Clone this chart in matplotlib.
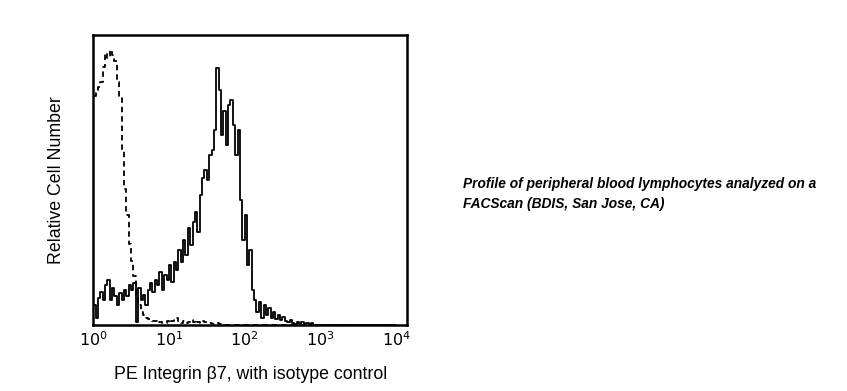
"""Flow cytometry histogram: PE Integrin beta7 vs isotype control."""
import numpy as np
import matplotlib
matplotlib.use("Agg")
import matplotlib.pyplot as plt

plt.rcParams['font.family'] = ['Liberation Sans', 'DejaVu Sans']

# 128 log channels over 4 decades (1/32 decade per channel)
n_channels = 128

# stained sample (solid), counts per channel
stained = [6.9, 2.4, 9.3, 11.4, 8.6, 13.8, 15.5, 8.6, 12.8, 10.0,
           6.9, 11.0, 8.6, 12.0, 10.0, 13.8, 12.0, 14.5, 1.0, 12.8,
           8.6, 10.3, 6.9, 12.0, 14.5, 11.4, 15.5, 13.8, 18.3, 12.0,
           17.2, 15.5, 20.7, 14.8, 21.7, 19.0, 25.9, 21.7, 29.3, 24.1,
           33.4, 27.6, 35.5, 39.0, 32.0, 44.8, 50.7, 53.4, 50.0, 58.6,
           60.3, 67.2, 88.6, 81.0, 65.5, 74.0, 62.0, 75.9, 77.6, 69.0,
           58.6, 67.2, 43.0, 29.3, 38.0, 20.7, 25.9, 12.0, 8.6, 4.5,
           7.9, 2.4, 6.9, 3.4, 5.9, 2.4, 4.5, 2.0, 3.4, 1.7,
           2.8, 1.4, 1.0, 1.7, 0.7, 0.3, 1.0, 0.3, 1.0, 0.3,
           0.8, 0.2, 0.5]

# isotype control (dashed)
isotype = [79, 80, 82, 84, 89, 94, 92, 95, 93, 91,
           84, 79, 60, 47, 38, 28, 22, 17, 10, 7,
           4.5, 3.5, 2.5, 2.0, 1.7, 1.4, 1.2, 0.8, 1.0, 0.5,
           0.8, 1.2, 0.6, 1.5, 2.0, 2.5, 1.2, 0.8, 1.5, 0.7,
           1.0, 1.6, 0.9, 1.8, 1.1, 0.6, 1.3, 0.9, 0.5, 0.8,
           0.4, 0.3, 0.5, 0.2]

tick_vals = [1, 10, 100, 1000, 10000]
tick_labels = [r'$10^{0}$', r'$10^{1}$', r'$10^{2}$', r'$10^{3}$', r'$10^{4}$']

def full(counts):
    arr = np.zeros(n_channels)
    arr[:len(counts)] = counts
    return arr

centers = 10 ** ((np.arange(n_channels) + 0.5) / 32.0)

fig = plt.figure(figsize=(8.47, 3.91), dpi=100)
ax = fig.add_axes([0.110, 0.169, 0.371, 0.741])

ax.plot(centers, full(isotype), color='black', lw=1.3, ls=(0, (3, 2.2)),
        drawstyle='steps-mid')
ax.plot(centers, full(stained), color='black', lw=1.3, drawstyle='steps-mid')

ax.set_xscale('log')
ax.set_xlim(1, 10 ** 4.15)
ax.set_ylim(0, 100)
ax.set_xticks(tick_vals)
ax.set_xticklabels(tick_labels, fontsize=11.5)
ax.minorticks_off()
ax.tick_params(axis='x', length=0, pad=4)
ax.set_yticks([])
for s in ax.spines.values():
    s.set_linewidth(1.8)

ax.set_xlabel('PE Integrin \u03b27, with isotype control', fontsize=12.8, labelpad=12)
ax.set_ylabel('Relative Cell Number', fontsize=12.8, labelpad=20)

fig.text(0.547, 0.548, 'Profile of peripheral blood lymphocytes analyzed on a\n'
         'FACScan (BDIS, San Jose, CA)', fontsize=9.9, fontweight='bold',
         fontstyle='italic', va='top', ha='left', linespacing=1.6)

fig.savefig('out.png', dpi=100)
